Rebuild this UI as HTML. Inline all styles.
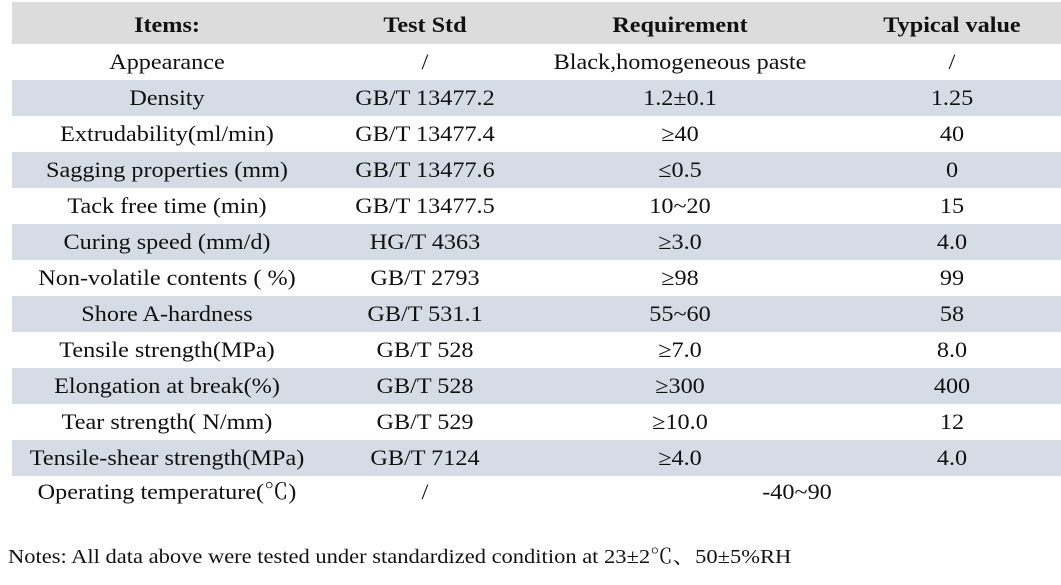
<!DOCTYPE html><html><head><style>
body{margin:0;width:1061px;height:585px;background:#fff;font-family:"Liberation Serif","Noto Serif CJK SC",serif;color:#111;position:relative;overflow:hidden}
.r{position:absolute;left:12px;width:1049px;height:36px;font-size:22px;line-height:36px}
.r span{position:absolute;top:0;text-align:center;white-space:nowrap;transform:scaleX(1.1);transform-origin:center}
.a{left:0;width:310px}.b{left:313px;width:200px}.c{left:500px;width:336px}.d{left:840px;width:200px}
.s{background:#d6dce5}
.h{top:2px;height:42px;line-height:46px;background:#dcdcdc;font-weight:bold}
.n{position:absolute;left:8px;top:545px;font-size:20px;line-height:24px;white-space:nowrap;transform:scaleX(1.125);transform-origin:left}
</style></head><body>
<div class="r h"><span class="a">Items:</span><span class="b">Test Std</span><span class="c">Requirement</span><span class="d">Typical value</span></div>
<div class="r" style="top:44px"><span class="a">Appearance</span><span class="b">/</span><span class="c">Black,homogeneous paste</span><span class="d">/</span></div>
<div class="r s" style="top:80px"><span class="a">Density</span><span class="b">GB/T 13477.2</span><span class="c">1.2±0.1</span><span class="d">1.25</span></div>
<div class="r" style="top:116px"><span class="a">Extrudability(ml/min)</span><span class="b">GB/T 13477.4</span><span class="c">≥40</span><span class="d">40</span></div>
<div class="r s" style="top:152px"><span class="a">Sagging properties (mm)</span><span class="b">GB/T 13477.6</span><span class="c">≤0.5</span><span class="d">0</span></div>
<div class="r" style="top:188px"><span class="a">Tack free time (min)</span><span class="b">GB/T 13477.5</span><span class="c">10~20</span><span class="d">15</span></div>
<div class="r s" style="top:224px"><span class="a">Curing speed (mm/d)</span><span class="b">HG/T 4363</span><span class="c">≥3.0</span><span class="d">4.0</span></div>
<div class="r" style="top:260px"><span class="a">Non-volatile contents ( %)</span><span class="b">GB/T 2793</span><span class="c">≥98</span><span class="d">99</span></div>
<div class="r s" style="top:296px"><span class="a">Shore A-hardness</span><span class="b">GB/T 531.1</span><span class="c">55~60</span><span class="d">58</span></div>
<div class="r" style="top:332px"><span class="a">Tensile strength(MPa)</span><span class="b">GB/T 528</span><span class="c">≥7.0</span><span class="d">8.0</span></div>
<div class="r s" style="top:368px"><span class="a">Elongation at break(%)</span><span class="b">GB/T 528</span><span class="c">≥300</span><span class="d">400</span></div>
<div class="r" style="top:404px"><span class="a">Tear strength( N/mm)</span><span class="b">GB/T 529</span><span class="c">≥10.0</span><span class="d">12</span></div>
<div class="r s" style="top:440px"><span class="a">Tensile-shear strength(MPa)</span><span class="b">GB/T 7124</span><span class="c">≥4.0</span><span class="d">4.0</span></div>
<div class="r" style="top:474px"><span class="a">Operating temperature(℃)</span><span class="b">/</span><span style="left:685px;width:200px">-40~90</span></div>
<div class="n">Notes: All data above were tested under standardized condition at 23±2℃、50±5%RH</div>
</body></html>
